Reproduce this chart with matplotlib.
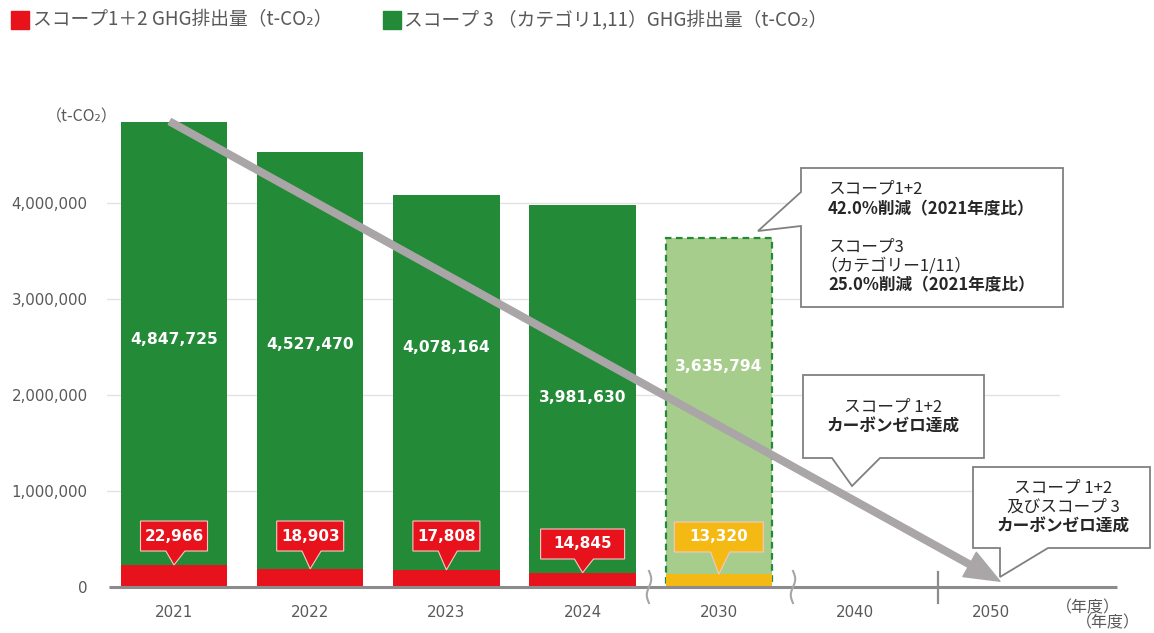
import numpy as np
import matplotlib
matplotlib.use("Agg")
import matplotlib.pyplot as plt
from matplotlib.patches import Polygon, Rectangle

plt.rcParams['font.family'] = ['Noto Sans CJK JP', 'DejaVu Sans']

# data
years = ['2021', '2022', '2023', '2024', '2030', '2040', '2050']
scope3 = [4847725, 4527470, 4078164, 3981630, 3635794]
scope12 = [22966, 18903, 17808, 14845, 13320]
yticks = [0, 1000000, 2000000, 3000000, 4000000]

# the scope 1+2 bars are drawn 10x taller in the original so they show up
SCOPE12_SCALE = 10

# layout (label heights in data units, label box widths in px)
green_lab_y = [2.573e6, 2.521e6, 2.50e6, 1.979e6, 2.292e6]
red_lab_y = [0.531e6, 0.531e6, 0.531e6, 0.448e6, 0.521e6]
red_lab_w = [67, 67, 67, 84, 89]

GREEN = '#238a38'
LIGHT_GREEN = '#a7cd8c'
RED = '#e8121c'
YELLOW = '#f5b914'
GREY_TXT = '#595959'
W, H = 1154, 633
PX_X = 136.2       # px per category


def P(x, y):
    return (x / W, 1 - y / H)


fig = plt.figure(figsize=(W / 100, H / 100), dpi=100)
ax = fig.add_axes([107 / W, 46 / H, 953 / W, 480 / H])
ax.set_xlim((107 - 174) / PX_X, (1060 - 174) / PX_X)
ax.set_ylim(0, 5e6)

idx = np.arange(len(years))
n = len(scope3)

# gridlines + baseline
for t in yticks[1:]:
    ax.axhline(t, color='#e2e2e2', lw=1, zorder=0)
ax.plot([(109 - 174) / PX_X, (1117 - 174) / PX_X], [0, 0], color='#8c8c8c',
        lw=2.2, clip_on=False, zorder=3, solid_capstyle='butt')

# green bars
ax.bar(idx[:4], scope3[:4], width=0.78, color=GREEN, zorder=1)
ax.bar(idx[4], scope3[4], width=0.78, facecolor=LIGHT_GREEN, edgecolor=GREEN,
       linestyle=(0, (3, 2)), lw=1.6, zorder=1)
# scope 1+2 bars
red_cols = [RED, RED, RED, RED, YELLOW]
ax.bar(idx[:n], np.array(scope12) * SCOPE12_SCALE, width=0.78, color=red_cols, zorder=2)

# green value labels
for i in range(n):
    ax.text(idx[i], green_lab_y[i], f'{scope3[i]:,}', color='white', ha='center',
            va='center', fontsize=11.2, fontweight='bold', family='DejaVu Sans', zorder=4)

# scope 1+2 callouts
bh = 30 * 1e6 / 96
for i in range(n):
    cx = idx[i]
    w = red_lab_w[i] / PX_X
    l, r = cx - w / 2, cx + w / 2
    b, t = red_lab_y[i] - bh / 2, red_lab_y[i] + bh / 2
    tip = scope12[i] * SCOPE12_SCALE
    pts = [(l, t), (r, t), (r, b), (cx + 0.08, b), (cx, tip), (cx - 0.06, b), (l, b)]
    ax.add_patch(Polygon(pts, closed=True, facecolor=red_cols[i], edgecolor='#f7c6c6',
                         lw=0.8, zorder=5))
    ax.text(cx, red_lab_y[i], f'{scope12[i]:,}', color='white', ha='center', va='center',
            fontsize=11, fontweight='bold', family='DejaVu Sans', zorder=6)

# trend arrow
ax.annotate('', xy=((1000 - 174) / PX_X, 0.06e6), xytext=(-0.03, scope3[0]),
            arrowprops=dict(arrowstyle='simple,head_length=1.25,head_width=1.0,tail_width=0.24',
                            mutation_scale=20, color='#aaa6a8', shrinkA=0, shrinkB=0),
            zorder=7)

# axes cosmetics
ax.set_xticks(idx)
ax.set_xticklabels(years, family='DejaVu Sans', fontsize=10.8, color=GREY_TXT)
ax.set_yticks(yticks)
ax.set_yticklabels([f'{v:,}' for v in yticks], family='DejaVu Sans', fontsize=10.8,
                   color=GREY_TXT)
ax.tick_params(length=0, pad=13)
ax.tick_params(axis='y', pad=14)
for s in ax.spines.values():
    s.set_visible(False)

# axis breaks
tt = np.linspace(0, 1, 40)
for bx in [649, 793]:
    xs = bx + 2.2 * np.sin(tt * 2 * np.pi)
    ys = 571 + 32 * tt
    fig.add_artist(plt.Line2D(xs / W, 1 - ys / H, color='#a6a6a6', lw=1.5))
fig.add_artist(plt.Line2D([938 / W, 938 / W], [1 - 572 / H, 1 - 603 / H], color='#8c8c8c', lw=1.6))

# legend
fig.add_artist(Rectangle(P(11, 29), 18 / W, 18 / H, color=RED))
fig.text(*P(33, 20), 'スコープ1＋2 GHG排出量（t-CO₂）', fontsize=13.5, color=GREY_TXT, va='center')
fig.add_artist(Rectangle(P(383, 29), 18 / W, 18 / H, color=GREEN))
fig.text(*P(404, 20), 'スコープ 3 （カテゴリ1,11）GHG排出量（t-CO₂）', fontsize=13.5,
         color=GREY_TXT, va='center')

# unit labels
fig.text(*P(46, 117), '（t-CO₂）', fontsize=11.5, color=GREY_TXT, va='center')
fig.text(*P(1056, 608), '（年度）', fontsize=11.5, color=GREY_TXT, va='center')
fig.text(*P(1076, 623), '（年度）', fontsize=11.5, color=GREY_TXT, va='center')

# speech boxes
boxes = [
    [(801, 168), (1063, 168), (1063, 307), (801, 307), (801, 226), (758, 231), (801, 192)],
    [(803, 375), (984, 375), (984, 458), (880, 458), (852, 486), (832, 458), (803, 458)],
    [(973, 467), (1150, 467), (1150, 548), (1048, 548), (1000, 577), (1000, 548), (973, 548)],
]
for pts in boxes:
    fig.add_artist(Polygon([P(x, y) for x, y in pts], closed=True, transform=fig.transFigure,
                           facecolor='white', edgecolor='#808080', lw=1.3, zorder=10))

box_txt = [
    (828, 189, 'スコープ1+2', 'normal', 'left'),
    (828, 209, '42.0%削減（2021年度比）', 'bold', 'left'),
    (828, 247, 'スコープ3', 'normal', 'left'),
    (820, 266, '（カテゴリー1/11）', 'normal', 'left'),
    (828, 285, '25.0%削減（2021年度比）', 'bold', 'left'),
    (893, 407, 'スコープ 1+2', 'normal', 'center'),
    (893, 427, 'カーボンゼロ達成', 'bold', 'center'),
    (1063, 488, 'スコープ 1+2', 'normal', 'center'),
    (1063, 507, '及びスコープ 3', 'normal', 'center'),
    (1063, 527, 'カーボンゼロ達成', 'bold', 'center'),
]
for x, y, s, fw, ha in box_txt:
    fig.text(*P(x, y), s, fontsize=12, fontweight=fw, color='#262626', ha=ha, va='center',
             zorder=11)

fig.savefig('out.png', dpi=100)
